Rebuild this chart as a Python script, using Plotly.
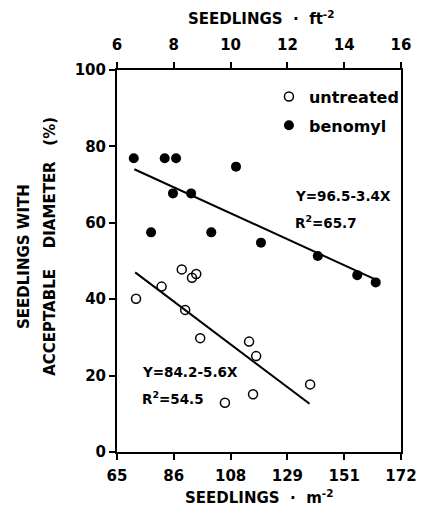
import plotly.graph_objects as go

# ---- data (x in seedlings per ft^2, y in % with acceptable diameter) ----
untreated_x = [6.67, 7.57, 8.28, 8.64, 8.79, 8.40, 8.93, 10.65, 10.90, 9.80, 10.79, 12.80]
untreated_y = [40.1, 43.3, 47.8, 45.6, 46.6, 37.2, 29.8, 28.9, 25.1, 12.9, 15.1, 17.7]

benomyl_x = [6.59, 7.68, 8.08, 10.19, 7.97, 8.61, 7.20, 9.32, 11.07, 13.07, 14.46, 15.11]
benomyl_y = [76.9, 76.9, 76.9, 74.7, 67.7, 67.7, 57.5, 57.5, 54.8, 51.3, 46.3, 44.4]

# regression fits: Y = a + b X
untreated_fit = {"a": 84.2, "b": -5.6, "x": [6.64, 12.78], "r2": 54.5}
benomyl_fit = {"a": 96.5, "b": -3.4, "x": [6.61, 15.15], "r2": 65.7}

ft_ticks = [6, 8, 10, 12, 14, 16]
m_tick_labels = ["65", "86", "108", "129", "151", "172"]
y_ticks = [0, 20, 40, 60, 80, 100]

FONT = "DejaVu Sans"
BOLD = dict(family=FONT, weight="bold", color="black")
NB = "\u00a0"

fig = go.Figure()

for fit in (untreated_fit, benomyl_fit):
    fig.add_trace(go.Scatter(
        x=fit["x"], y=[fit["a"] + fit["b"] * v for v in fit["x"]],
        mode="lines", line=dict(color="black", width=2),
        showlegend=False, hoverinfo="skip"))

fig.add_trace(go.Scatter(
    x=untreated_x, y=untreated_y, mode="markers", name="untreated",
    legendgroup="u",
    marker=dict(symbol="circle-open", size=9, color="black", line=dict(width=1.5, color="black"))))
fig.add_trace(go.Scatter(
    x=benomyl_x, y=benomyl_y, mode="markers", name="benomyl",
    legendgroup="b",
    marker=dict(symbol="circle", size=10, color="black")))

# invisible trace to activate top axis
fig.add_trace(go.Scatter(x=[ft_ticks[0], ft_ticks[-1]], y=[0, 0], xaxis="x2",
                         mode="markers", marker=dict(opacity=0), showlegend=False,
                         hoverinfo="skip"))

# page body has an 8px default margin, so the figure is 8px smaller
fig.update_layout(
    width=421, height=504,
    margin=dict(l=109, r=16, t=62, b=60),
    plot_bgcolor="white", paper_bgcolor="white",
    showlegend=True,
    legend=dict(x=0.535, y=0.975, xanchor="left", yanchor="top",
                font=dict(size=16, **BOLD), bgcolor="rgba(0,0,0,0)",
                tracegroupgap=5, itemwidth=30),
    xaxis=dict(range=[6, 16], tickvals=ft_ticks, ticktext=m_tick_labels,
               showline=True, linecolor="black", linewidth=2, mirror=False,
               ticks="outside", ticklen=6, tickwidth=1.5, tickcolor="black",
               showgrid=False, zeroline=False,
               tickfont=dict(size=15, **BOLD), ticklabelstandoff=3),
    xaxis2=dict(range=[6, 16], tickvals=ft_ticks, ticktext=[str(t) for t in ft_ticks],
                overlaying="x", side="top", anchor="y",
                showline=True, linecolor="black", linewidth=2,
                ticks="outside", ticklen=6, tickwidth=1.5, tickcolor="black",
                showgrid=False, zeroline=False,
                tickfont=dict(size=15, **BOLD), ticklabelstandoff=6),
    yaxis=dict(range=[0, 100], tickvals=y_ticks,
               showline=True, linecolor="black", linewidth=2, mirror=True,
               ticks="outside", ticklen=6, tickwidth=1.5, tickcolor="black",
               showgrid=False, zeroline=False,
               tickfont=dict(size=15, **BOLD)),
)

ann_font = dict(size=13.5, **BOLD)
annotations = [
    dict(x=12.20, y=67.0, text=f"Y={benomyl_fit['a']}-{abs(benomyl_fit['b'])}X"),
    dict(x=12.20, y=60.2, text=f"R<sup>2</sup>={benomyl_fit['r2']}"),
    dict(x=6.80, y=20.9, text=f"Y={untreated_fit['a']}-{abs(untreated_fit['b'])}X"),
    dict(x=6.80, y=14.1, text=f"R<sup>2</sup>={untreated_fit['r2']}"),
]
for a in annotations:
    fig.add_annotation(xref="x", yref="y", xanchor="left", yanchor="middle",
                       showarrow=False, font=ann_font, **a)

title_font = dict(size=15, **BOLD)
fig.add_annotation(xref="paper", yref="paper", x=0.51, y=1.136, xanchor="center",
                   yanchor="middle", showarrow=False, font=title_font,
                   text=f"SEEDLINGS{NB}{NB}·{NB}{NB}ft<sup>-2</sup>")
fig.add_annotation(xref="paper", yref="paper", x=0.5, y=-0.118, xanchor="center",
                   yanchor="middle", showarrow=False, font=title_font,
                   text=f"SEEDLINGS{NB}{NB}·{NB}{NB}m<sup>-2</sup>")
fig.add_annotation(xref="paper", yref="paper", x=(20 - 117) / 296, y=(452 - 256) / 382,
                   xanchor="center", yanchor="middle", textangle=-90,
                   showarrow=False, font=title_font, text="SEEDLINGS WITH")
fig.add_annotation(xref="paper", yref="paper", x=(47 - 117) / 296, y=(452 - 246) / 382,
                   xanchor="center", yanchor="middle", textangle=-90,
                   showarrow=False, font=title_font,
                   text=f"ACCEPTABLE{NB*4}DIAMETER{NB*3}(%)")

fig.write_html("out.html")
